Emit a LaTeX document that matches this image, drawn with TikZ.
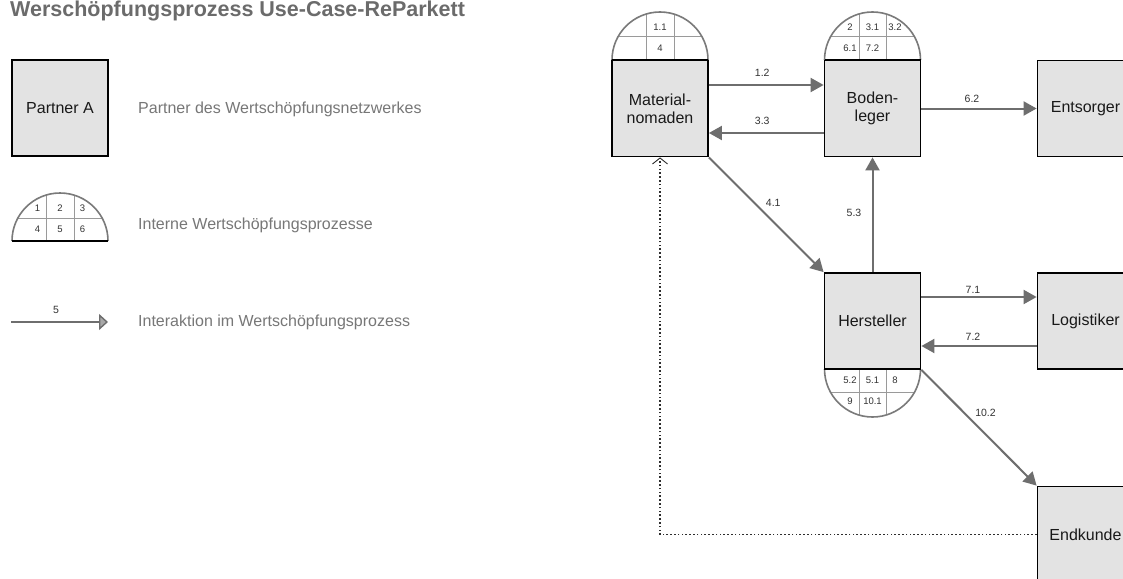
\documentclass[tikz,border=0pt]{standalone}
\usepackage{fontspec}
\setmainfont{Liberation Sans}
\usetikzlibrary{arrows.meta}

\definecolor{boxfill}{HTML}{E3E3E3}
\definecolor{flowgray}{HTML}{6E6E6E}
\definecolor{domegray}{HTML}{7A7A7A}
\definecolor{gridgray}{HTML}{9A9A9A}
\definecolor{notegray}{HTML}{777777}
\definecolor{titlegray}{HTML}{6B6B6B}
\definecolor{labelgray}{HTML}{333333}
\definecolor{dotgray}{HTML}{2E2E2E}
\definecolor{tipfill}{HTML}{A8A8A8}

\tikzset{
  partner/.style={draw=black, line width=1.8pt, fill=boxfill,
    minimum width=96pt, minimum height=96pt, inner sep=0pt, align=center,
    text=black!90, font=\fontsize{16}{18}\selectfont},
  flow/.style={draw=flowgray, line width=2pt,
    -{Triangle[length=13pt,width=14pt]}},
  legendflow/.style={draw=flowgray, line width=2pt,
    -{Triangle[length=9pt,width=16pt,fill=tipfill,line width=1.4pt]}},
  backflow/.style={draw=dotgray, line width=1.5pt, dash pattern=on 1.6pt off 2.2pt,
    -{Straight Barb[length=6pt,width=15pt,line width=0.9pt]}},
  lbl/.style={font=\fontsize{10.5}{12}\selectfont, text=labelgray, inner sep=0pt},
  cellnum/.style={font=\fontsize{9.5}{11}\selectfont, text=labelgray, inner sep=0pt},
  note/.style={font=\fontsize{16}{18}\selectfont, text=notegray, inner sep=0pt, anchor=west},
  pics/dome/.style n args={6}{code={
    \fill[white] (-48,0) arc[start angle=180,end angle=360,radius=48] -- cycle;
    \draw[gridgray, line width=1pt] (-42.2,-23) -- (42.2,-23);
    \draw[gridgray, line width=1pt] (-13.5,0) -- (-13.5,-46.1);
    \draw[gridgray, line width=1pt] (14,0) -- (14,-45.9);
    \draw[domegray, line width=1.6pt] (-48,0) arc[start angle=180,end angle=360,radius=48];
    \draw[black, line width=1.8pt] (-48,0) -- (48,0);
    \node[cellnum] (f1) at (-22.5,-32.5) {#1};
    \node[cellnum] (f2) at (0,-32.5) {#2};
    \node[cellnum] (f3) at (22.5,-32.5) {#3};
    \node[cellnum] (n1) at (-22.5,-11.5) {#4};
    \node[cellnum] (n2) at (0,-11.5) {#5};
    \node[cellnum] (n3) at (22.5,-11.5) {#6};
  }}
}

\begin{document}
\begin{tikzpicture}[x=1pt,y=-1pt]
  \clip (0,0) rectangle (1123,578);
  \fill[white] (0,0) rectangle (1123,578);

  % title
  \node[inner sep=0pt, anchor=base west, text=titlegray,
        font=\fontsize{21.5}{24}\selectfont\bfseries] (title) at (10,17)
        {Werschöpfungsprozess Use-Case-ReParkett};

  % legend
  \node[partner] (legpartner) at (60,108) {Partner A};
  \node[note] (legpartnertxt) at (138,109) {Partner des Wertschöpfungsnetzwerkes};
  \pic (legdome) at (60,241) {dome={1}{2}{3}{4}{5}{6}};
  \node[note] (legdometxt) at (138,225) {Interne Wertschöpfungsprozesse};
  \coordinate (legfrom) at (11,322);
  \coordinate (legto) at (108,322);
  \draw[legendflow] (legfrom) -- (legto) node[lbl, midway, xshift=-3.5pt, yshift=12pt] (leglbl) {5};
  \node[note] (legflowtxt) at (138,322) {Interaktion im Wertschöpfungsprozess};

  % process domes (drawn first, the boxes close their base)
  \pic (matdome) at (660,60) {dome={}{1.1}{}{}{4}{}};
  \pic (boddome) at (872.5,60) {dome={2}{3.1}{3.2}{6.1}{7.2}{}};
  \pic[yscale=-1] (herdome) at (872.5,369) {dome={9}{10.1}{}{5.2}{5.1}{8}};

  % partners
  \node[partner] (mat) at (660,108.5) {Material-\\nomaden};
  \node[partner] (bod) at (872.5,108.5) {Boden-\\leger};
  \node[partner] (ent) at (1085.5,108.5) {Entsorger};
  \node[partner] (her) at (872.5,321) {Hersteller};
  \node[partner] (log) at (1085.5,321) {Logistiker};
  \node[partner] (end) at (1085.5,534.5) {Endkunde};

  % interactions
  \draw[flow] ([yshift=23.5pt]mat.east) -- ([yshift=23.5pt]bod.west)
    node[lbl, midway, xshift=-4pt, yshift=12pt] (l12) {1.2};
  \draw[flow] ([yshift=-24.5pt]bod.west) -- ([yshift=-24.5pt]mat.east)
    node[lbl, midway, xshift=-4pt, yshift=12pt] (l33) {3.3};
  \draw[flow] (bod.east) -- (ent.west)
    node[lbl, midway, xshift=-7pt, yshift=10pt] (l62) {6.2};
  \draw[flow] (mat.south east) -- (her.north west)
    node[lbl, midway, xshift=7pt, yshift=12pt] (l41) {4.1};
  \draw[flow] (her.north) -- (bod.south)
    node[lbl, midway, xshift=-18.5pt, yshift=2pt] (l53) {5.3};
  \draw[flow] ([yshift=24pt]her.east) -- ([yshift=24pt]log.west)
    node[lbl, midway, xshift=-6pt, yshift=7pt] (l71) {7.1};
  \draw[flow] ([yshift=-25pt]log.west) -- ([yshift=-25pt]her.east)
    node[lbl, midway, xshift=-6pt, yshift=9pt] (l72) {7.2};
  \draw[flow] (her.south east) -- (end.north west)
    node[lbl, midway, xshift=6.5pt, yshift=14.5pt] (l102) {10.2};

  % return path from the end customer
  \draw[backflow] (end.west) -| (mat.south);
\end{tikzpicture}
\end{document}
